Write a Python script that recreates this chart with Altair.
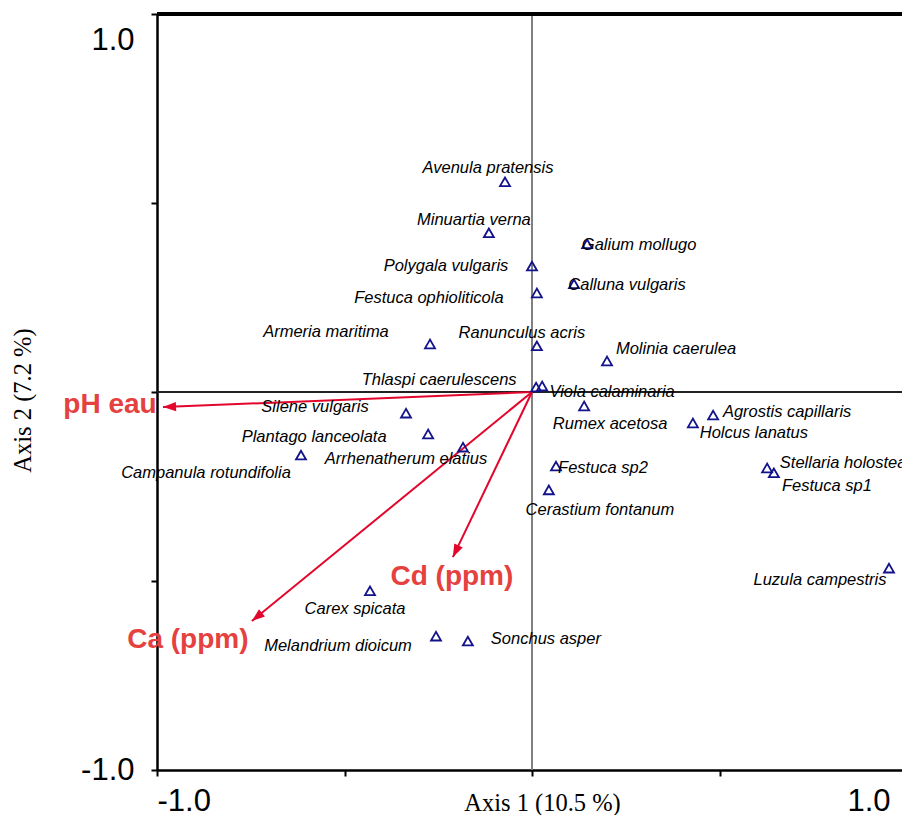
import altair as alt
import numpy as np
import pandas as pd

# Species scores on the first two ordination axes
species = [
    "Avenula pratensis", "Minuartia verna", "Galium mollugo", "Polygala vulgaris",
    "Calluna vulgaris", "Festuca ophioliticola", "Armeria maritima", "Ranunculus acris",
    "Molinia caerulea", "Thlaspi caerulescens", "Viola calaminaria", "Silene vulgaris",
    "Rumex acetosa", "Agrostis capillaris", "Holcus lanatus", "Plantago lanceolata",
    "Arrhenatherum elatius", "Campanula rotundifolia", "Festuca sp2", "Stellaria holostea",
    "Festuca sp1", "Cerastium fontanum", "Luzula campestris", "Carex spicata",
    "Melandrium dioicum", "Sonchus asper",
]
axis1 = [
    -0.072, -0.115, 0.147, 0.000,
    0.112, 0.013, -0.272, 0.013,
    0.200, 0.011, 0.027, -0.336,
    0.139, 0.483, 0.429, -0.277,
    -0.184, -0.616, 0.064, 0.627,
    0.645, 0.045, 0.952, -0.432,
    -0.256, -0.171,
]
axis2 = [
    0.556, 0.421, 0.392, 0.333,
    0.286, 0.262, 0.127, 0.122,
    0.082, 0.013, 0.016, -0.056,
    -0.037, -0.061, -0.082, -0.111,
    -0.146, -0.167, -0.196, -0.201,
    -0.214, -0.259, -0.466, -0.526,
    -0.646, -0.659,
]

# Environmental variables (biplot arrows)
variables = ["pH eau", "Cd (ppm)", "Ca (ppm)"]
var_axis1 = [-0.984, -0.211, -0.747]
var_axis2 = [-0.040, -0.437, -0.606]

tick_values = [-1.0, -0.5, 0.0, 0.5, 1.0]

# ---- layout -------------------------------------------------------------
PLOT_W = 745          # visible width of the plotting frame
X_RANGE = 750         # pixel span of [-1, 1] on axis 1 (runs past the frame)
PLOT_H = 756
PX_X = X_RANGE / 2
PX_Y = PLOT_H / 2

# label placement relative to each marker, in pixels (dx right, dy down)
label_offsets = {
    "Avenula pratensis": (-17, -14), "Minuartia verna": (-15, -13),
    "Galium mollugo": (52, 1), "Polygala vulgaris": (-86, 0),
    "Calluna vulgaris": (53, 1), "Festuca ophioliticola": (-108, 5),
    "Armeria maritima": (-104, -12), "Ranunculus acris": (-15, -13),
    "Molinia caerulea": (69, -12), "Thlaspi caerulescens": (-97, -7),
    "Viola calaminaria": (70, 6), "Silene vulgaris": (-91, -6),
    "Rumex acetosa": (26, 18), "Agrostis capillaris": (74, -3),
    "Holcus lanatus": (61, 10), "Plantago lanceolata": (-114, 3),
    "Arrhenatherum elatius": (-57, 12), "Campanula rotundifolia": (-95, 18),
    "Festuca sp2": (47, 2), "Stellaria holostea": (76, -5),
    "Festuca sp1": (53, 13), "Cerastium fontanum": (51, 20),
    "Luzula campestris": (-69, 12), "Carex spicata": (-15, 18),
    "Melandrium dioicum": (-98, 10), "Sonchus asper": (78, -2),
}
var_label_offsets = {
    "pH eau": (-53, -2), "Cd (ppm)": (-1, 20), "Ca (ppm)": (-64, 19),
}

RED_LINE = "#E2062C"
RED_TEXT = "#E5413F"
NAVY = "#12128A"

sp = pd.DataFrame({"species": species, "ax1": axis1, "ax2": axis2})
sp["lx"] = sp["ax1"] + [label_offsets[s][0] / PX_X for s in species]
sp["ly"] = sp["ax2"] - np.array([label_offsets[s][1] / PX_Y for s in species])

env = pd.DataFrame({"var": variables, "ax1": var_axis1, "ax2": var_axis2})
env["x0"] = 0.0
env["y0"] = 0.0
env["angle"] = np.degrees(np.arctan2(env["ax1"] * PX_X, env["ax2"] * PX_Y)) % 360
env["lx"] = env["ax1"] + [var_label_offsets[v][0] / PX_X for v in variables]
env["ly"] = env["ax2"] - np.array([var_label_offsets[v][1] / PX_Y for v in variables])

# ---- scales and axes ------------------------------------------------------
xs = alt.Scale(domain=[-1, 1], range=[0, X_RANGE], nice=False, zero=False)
ys = alt.Scale(domain=[-1, 1], nice=False, zero=False)

ends_only = "datum.value == -1 ? '-1.0' : (datum.value == 1 ? '1.0' : '')"

x_axis = alt.Axis(
    values=tick_values, labelExpr=ends_only, grid=False,
    title="Axis 1 (10.5 %)",
    labelFont="Liberation Sans", labelFontSize=31, labelColor="black",
    labelPadding=10, labelOverlap=False, labelFlush=False,
    labelAlign={"condition": {"test": "datum.value < 0", "value": "left"}, "value": "right"},
    labelOffset={"condition": {"test": "datum.value == 1", "value": -17}, "value": 0},
    tickSize=6, tickWidth=2, tickColor="black",
    domainColor="black", domainWidth=2.5,
    titleFont="Liberation Serif", titleFontSize=24.5, titleFontWeight="normal",
    titleColor="black", titleX=385, titleY=33, titleBaseline="middle", titleAlign="center",
)
y_axis = alt.Axis(
    values=tick_values, labelExpr=ends_only, grid=False,
    title="Axis 2 (7.2 %)",
    labelFont="Liberation Sans", labelFontSize=31, labelColor="black",
    labelPadding=17, labelOverlap=False, labelFlush=False, labelBaseline="middle",
    labelOffset={"condition": {"test": "datum.value == 1", "value": 26}, "value": 0},
    tickSize=6, tickWidth=2, tickColor="black",
    domainColor="black", domainWidth=2.5,
    titleFont="Liberation Serif", titleFontSize=24.5, titleFontWeight="normal",
    titleColor="black", titleX=-134, titleY=386, titleAngle=270,
    titleBaseline="middle", titleAlign="center",
)


def X(field=None, datum=None):
    if datum is not None:
        return alt.X(datum=datum, type="quantitative", scale=xs, axis=x_axis)
    return alt.X(field, type="quantitative", scale=xs, axis=x_axis)


def Y(field=None, datum=None):
    if datum is not None:
        return alt.Y(datum=datum, type="quantitative", scale=ys, axis=y_axis)
    return alt.Y(field, type="quantitative", scale=ys, axis=y_axis)


base_sp = alt.Chart(sp)
base_env = alt.Chart(env)

# zero lines and the top edge of the frame
zero_v = base_sp.mark_rule(color="#808080", strokeWidth=1.2).encode(x=X(datum=0))
zero_h = base_sp.mark_rule(color="#222222", strokeWidth=1.2).encode(y=Y(datum=0))
top_edge = base_sp.mark_rule(color="black", strokeWidth=2.5).encode(y=Y(datum=1))

# biplot arrows
shafts = base_env.mark_rule(color=RED_LINE, strokeWidth=2).encode(
    x=X("x0"), y=Y("y0"), x2="ax1", y2="ax2"
)
heads = base_env.mark_point(
    shape="M0,0L-0.36,1L0.36,1Z", filled=True, size=680,
    color=RED_LINE, opacity=1, strokeWidth=0,
).encode(x=X("ax1"), y=Y("ax2"), angle=alt.Angle("angle:Q", scale=None))
var_text = base_env.mark_text(
    font="Liberation Sans", fontSize=28, fontWeight="bold", color=RED_TEXT,
    align="center", baseline="middle",
).encode(x=X("lx"), y=Y("ly"), text="var:N")

# species
markers = base_sp.mark_point(
    shape="triangle-up", size=100, filled=False, color=NAVY, strokeWidth=1.8, opacity=1
).encode(x=X("ax1"), y=Y("ax2"))
sp_text = base_sp.mark_text(
    font="Liberation Sans", fontSize=16.5, fontStyle="italic", color="black",
    align="center", baseline="middle",
).encode(x=X("lx"), y=Y("ly"), text="species:N")

chart = alt.layer(
    zero_v, zero_h, top_edge, shafts, heads, markers, sp_text, var_text
).properties(
    width=PLOT_W, height=PLOT_H,
    padding={"left": 157, "top": 14, "right": 0, "bottom": 45},
    autosize=alt.AutoSizeParams(type="none"),
    background="white",
).configure_view(strokeWidth=0)

chart.save("out.html", embed_options={"renderer": "svg", "actions": False})
